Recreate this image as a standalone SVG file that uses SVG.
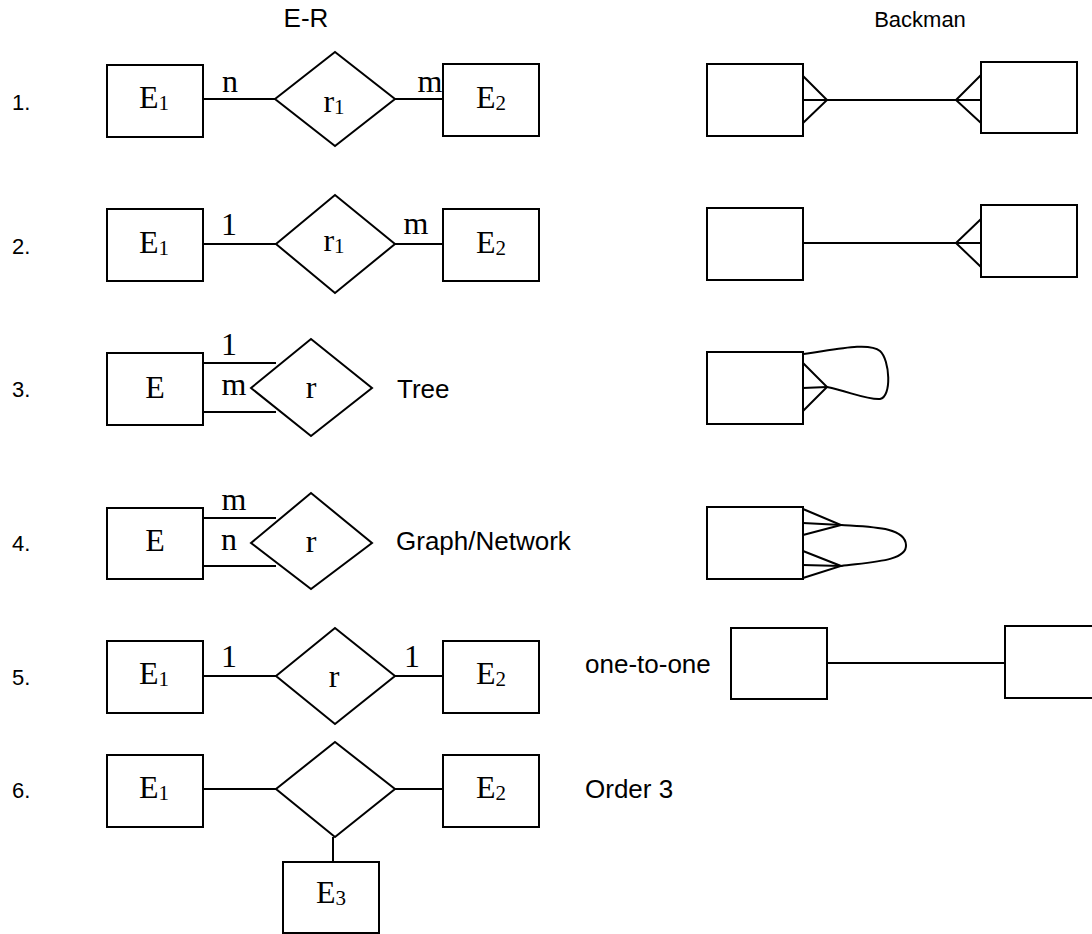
<svg xmlns="http://www.w3.org/2000/svg" width="1092" height="934" viewBox="0 0 1092 934">
<style>
.s{fill:none;stroke:#000;stroke-width:2}
.b{fill:#fff;stroke:#000;stroke-width:2}
.t{font-family:"Liberation Serif","Times New Roman",serif;font-size:32px;fill:#000}
.a{font-family:"Liberation Sans",Arial,sans-serif;font-size:26px;fill:#000}
.n{font-family:"Liberation Sans",Arial,sans-serif;font-size:22px;fill:#000}
.sub{font-size:21px}
</style>
<rect width="1092" height="934" fill="#fff"/>
<g id="headings">
<text class="a" x="306" y="27" text-anchor="middle" font-size="25">E-R</text>
<text class="a" x="920" y="27" text-anchor="middle" style="font-size:22px">Backman</text>
</g>
<g id="numbers">
<text class="n" x="12" y="110">1.</text>
<text class="n" x="12" y="254">2.</text>
<text class="n" x="12" y="397">3.</text>
<text class="n" x="12" y="551">4.</text>
<text class="n" x="12" y="685">5.</text>
<text class="n" x="12" y="798">6.</text>
</g>
<g id="connectors">
<line class="s" x1="203" y1="99" x2="276" y2="99"/>
<line class="s" x1="395" y1="99" x2="443" y2="99"/>
<line class="s" x1="203" y1="244" x2="276" y2="244"/>
<line class="s" x1="395" y1="244" x2="443" y2="244"/>
<line class="s" x1="203" y1="363" x2="276" y2="363"/>
<line class="s" x1="203" y1="412" x2="276" y2="412"/>
<line class="s" x1="203" y1="518" x2="276" y2="518"/>
<line class="s" x1="203" y1="566" x2="276" y2="566"/>
<line class="s" x1="203" y1="676" x2="276" y2="676"/>
<line class="s" x1="395" y1="676" x2="443" y2="676"/>
<line class="s" x1="203" y1="789" x2="276" y2="789"/>
<line class="s" x1="395" y1="789" x2="443" y2="789"/>
<line class="s" x1="333" y1="837" x2="333" y2="862"/>
<line class="s" x1="803" y1="100" x2="981" y2="100"/>
<polyline class="s" points="803,76 827,100 803,123"/>
<polyline class="s" points="981,75 956,100 981,123"/>
<line class="s" x1="803" y1="243" x2="981" y2="243"/>
<polyline class="s" points="981,219 956,243 981,267"/>
<polyline class="s" points="803,363 827,387 803,411"/>
<line class="s" x1="803" y1="388" x2="827" y2="387"/>
<path class="s" d="M827 387 C850 392 868 400 880 399 C892 397 890 360 880 351 C868 341 830 351 797 355"/>
<polyline class="s" points="803,509 841,525 803,535"/>
<line class="s" x1="803" y1="523" x2="841" y2="525"/>
<polyline class="s" points="803,551 841,566 803,578"/>
<line class="s" x1="803" y1="565" x2="841" y2="566"/>
<path class="s" d="M841 525 C872 527 905 527 906 545 C907 561 872 562 841 566"/>
<line class="s" x1="827" y1="663" x2="1005" y2="663"/>
</g>
<g id="er1">
<g id="r1-e1"><rect class="b" x="107" y="65" width="96" height="72"/><text class="t" x="154" y="108" text-anchor="middle">E<tspan class="sub" dy="2">1</tspan></text></g>
<g id="r1-rel"><polygon class="b" points="275,99 335,52 395,99 335,146"/><text class="t" x="334" y="112" text-anchor="middle">r<tspan class="sub" dy="2">1</tspan></text></g>
<g id="r1-e2"><rect class="b" x="443" y="64" width="96" height="72"/><text class="t" x="491" y="108" text-anchor="middle">E<tspan class="sub" dy="2">2</tspan></text></g>
<text class="t" x="230" y="92" text-anchor="middle">n</text>
<text class="t" x="430" y="92" text-anchor="middle">m</text>
</g>
<g id="er2">
<g id="r2-e1"><rect class="b" x="107" y="209" width="96" height="72"/><text class="t" x="154" y="253" text-anchor="middle">E<tspan class="sub" dy="2">1</tspan></text></g>
<g id="r2-rel"><polygon class="b" points="276,244 335,195 395,244 335,293"/><text class="t" x="334" y="251" text-anchor="middle">r<tspan class="sub" dy="2">1</tspan></text></g>
<g id="r2-e2"><rect class="b" x="443" y="209" width="96" height="72"/><text class="t" x="491" y="253" text-anchor="middle">E<tspan class="sub" dy="2">2</tspan></text></g>
<text class="t" x="229" y="235" text-anchor="middle">1</text>
<text class="t" x="416" y="234" text-anchor="middle">m</text>
</g>
<g id="er3">
<g id="r3-e"><rect class="b" x="107" y="353" width="96" height="72"/><text class="t" x="155" y="398" text-anchor="middle">E</text></g>
<g id="r3-rel"><polygon class="b" points="251,388 311,339 372,388 311,436"/><text class="t" x="311" y="398" text-anchor="middle">r</text></g>
<text class="t" x="229" y="355" text-anchor="middle">1</text>
<text class="t" x="234" y="395" text-anchor="middle">m</text>
<text class="a" x="397" y="398">Tree</text>
</g>
<g id="er4">
<g id="r4-e"><rect class="b" x="107" y="508" width="96" height="71"/><text class="t" x="155" y="551" text-anchor="middle">E</text></g>
<g id="r4-rel"><polygon class="b" points="251,543 311,493 372,543 311,589"/><text class="t" x="311" y="552" text-anchor="middle">r</text></g>
<text class="t" x="234" y="510" text-anchor="middle">m</text>
<text class="t" x="229" y="550" text-anchor="middle">n</text>
<text class="a" x="396" y="550">Graph/Network</text>
</g>
<g id="er5">
<g id="r5-e1"><rect class="b" x="107" y="641" width="96" height="72"/><text class="t" x="154" y="684" text-anchor="middle">E<tspan class="sub" dy="2">1</tspan></text></g>
<g id="r5-rel"><polygon class="b" points="276,676 335,628 395,676 335,724"/><text class="t" x="334" y="687" text-anchor="middle">r</text></g>
<g id="r5-e2"><rect class="b" x="443" y="641" width="96" height="72"/><text class="t" x="491" y="684" text-anchor="middle">E<tspan class="sub" dy="2">2</tspan></text></g>
<text class="t" x="229" y="667" text-anchor="middle">1</text>
<text class="t" x="412" y="667" text-anchor="middle">1</text>
<text class="a" x="585" y="673">one-to-one</text>
</g>
<g id="er6">
<g id="r6-e1"><rect class="b" x="107" y="755" width="96" height="72"/><text class="t" x="154" y="798" text-anchor="middle">E<tspan class="sub" dy="2">1</tspan></text></g>
<g id="r6-rel"><polygon class="b" points="276,789 335,742 395,789 335,837"/></g>
<g id="r6-e2"><rect class="b" x="443" y="755" width="96" height="72"/><text class="t" x="491" y="798" text-anchor="middle">E<tspan class="sub" dy="2">2</tspan></text></g>
<g id="r6-e3"><rect class="b" x="283" y="862" width="96" height="71"/><text class="t" x="331" y="903" text-anchor="middle">E<tspan class="sub" dy="2">3</tspan></text></g>
<text class="a" x="585" y="798">Order 3</text>
</g>
<g id="backman">
<rect id="b1a" class="b" x="707" y="64" width="96" height="72"/>
<rect id="b1b" class="b" x="981" y="62" width="96" height="71"/>
<rect id="b2a" class="b" x="707" y="208" width="96" height="72"/>
<rect id="b2b" class="b" x="981" y="205" width="96" height="72"/>
<rect id="b3" class="b" x="707" y="352" width="96" height="72"/>
<rect id="b4" class="b" x="707" y="507" width="96" height="72"/>
<rect id="b5a" class="b" x="731" y="628" width="96" height="71"/>
<rect id="b5b" class="b" x="1005" y="626" width="96" height="72"/>
</g>
</svg>
